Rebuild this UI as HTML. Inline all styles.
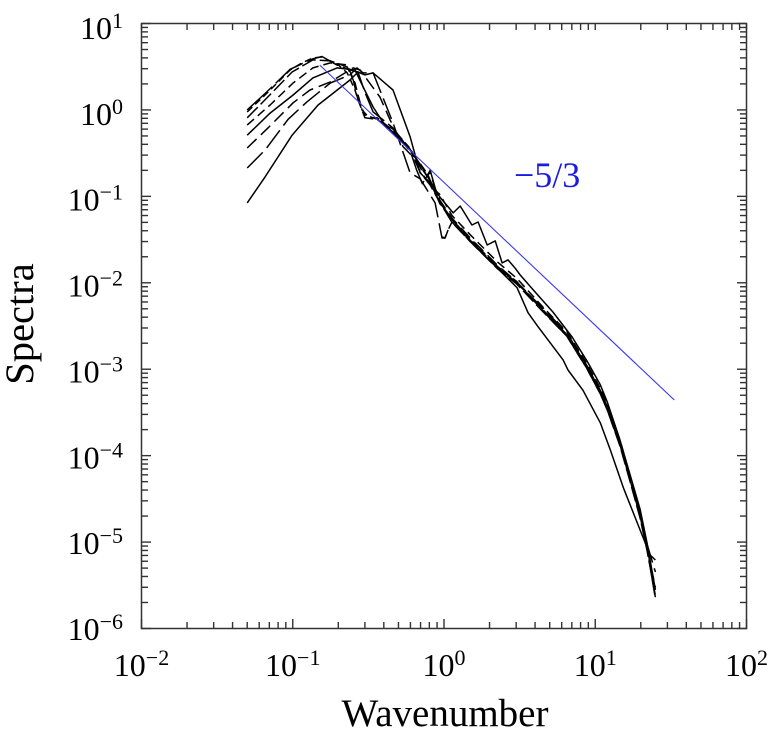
<!DOCTYPE html>
<html>
<head>
<meta charset="utf-8">
<title>Spectra vs Wavenumber</title>
<style>
html,body{margin:0;padding:0;background:#fff}
svg{display:block}
text{font-family:"Liberation Serif",serif;fill:#000}
</style>
</head>
<body>
<svg id="chart" xmlns="http://www.w3.org/2000/svg" width="767" height="739" viewBox="0 0 767 739">
<rect width="767" height="739" fill="#fff"/>
<g id="ticks"></g>
<g id="labels"></g>
<g id="series"></g>
<rect x="141.5" y="23.5" width="605" height="605" fill="none" stroke="#333" stroke-width="1.5"/>
<text x="445" y="726" font-size="39" text-anchor="middle">Wavenumber</text>
<text transform="translate(33,324) rotate(-90)" font-size="40.5" text-anchor="middle">Spectra</text>
<text x="514" y="187" font-size="36" style="fill:#1a1ae0">−5/3</text>
</svg>
<script>
const xExponents = [-2, -1, 0, 1, 2];
const yExponents = [-6, -5, -4, -3, -2, -1, 0, 1];
const minorMultipliers = [2, 3, 4, 5, 6, 7, 8, 9];

const slopeK = [0.151, 33.3];
const slopeE = [3.3, 0.00044];

const kA = [0.05,0.0656,0.099,0.147,0.239,0.27,0.3,0.34,0.46,0.597,0.695,0.81,0.94,1.13,1.49,2.25,3.04,3.6,4.13,6.13,6.6,8.3,10.8,12.6,15.3,19.8,23,25];
const eA = [0.084,0.168,0.51,1.14,2.22,2.75,2.54,2.68,1.7,0.49,0.187,0.143,0.085,0.055,0.03,0.0148,0.0088,0.0045,0.0032,0.00128,0.00098,0.00057,0.00024,0.000116,0.000043,0.0000138,0.0000071,0.0000062];
const kB = [0.05,0.0656,0.0931,0.124,0.177,0.239,0.266,0.292,0.34,0.46,0.597,0.695,0.873,0.97,1.016,1.064,1.13,1.49,2.25,3.04,4.52,6.5,8.8,10.8,12,14.6,17,19.8,22,25];
const eB = [0.213,0.344,0.78,1.24,2.05,2.54,3.06,2.68,2.68,0.71,0.187,0.16,0.0839,0.033,0.033,0.0408,0.0505,0.03,0.015,0.0098,0.0051,0.0026,0.0011,0.00057,0.00038,0.000145,0.000058,0.000023,0.0000095,0.0000045];
const kBdip = [0.97,1.016,1.064];
const eBdip = [0.034,0.033,0.0408];
const kC = [0.05,0.0686,0.1005,0.13,0.177,0.251,0.279,0.377,0.44,0.537,0.597,0.695,0.75,0.81,0.87,0.94,1.13,1.49,2.25,3.04,4.52,6.5,8.8,10.8,12,14.6,17,19.8,22,25];
const eC = [0.363,0.62,1.21,1.7,2.11,3.06,2.9,1.41,0.766,0.373,0.31,0.22,0.16,0.19,0.125,0.09,0.056,0.033,0.016,0.0102,0.0047,0.0024,0.00102,0.00052,0.00034,0.000132,0.000052,0.00002,0.0000085,0.000003];
const kD = [0.05,0.0708,0.1005,0.136,0.196,0.258,0.292,0.34,0.395,0.49,0.597,0.695,0.81,0.94,1.15,1.28,1.53,1.68,1.93,2.18,2.42,2.65,2.95,3.19,4,5.25,7.03,8.8,10.8,12,14.6,17,19.8,22,25];
const eD = [0.51,0.92,1.49,2.35,3.06,2.9,1.85,1.08,0.72,0.49,0.35,0.235,0.15,0.098,0.0644,0.0774,0.0466,0.0505,0.0274,0.0305,0.017,0.0184,0.0148,0.0123,0.00783,0.00459,0.00236,0.00125,0.00066,0.00042,0.00015,0.00006,0.000024,0.0000098,0.0000028];
const kE = [0.05,0.0708,0.1005,0.136,0.177,0.229,0.258,0.287,0.32,0.361,0.46,0.597,0.695,0.78,0.86,0.94,1.13,1.49,2.25,3.04,4.52,6.5,8.8,10.8,12,14.6,17,19.8,22,25];
const eE = [0.67,1.14,2.05,3.06,3.5,3.32,2.05,1.0,0.81,0.81,0.58,0.33,0.24,0.18,0.12,0.105,0.06,0.036,0.0175,0.0112,0.0052,0.0027,0.00116,0.0006,0.0004,0.00015,0.000058,0.000022,0.0000092,0.0000026];
const kF = [0.05,0.0636,0.099,0.136,0.177,0.229,0.251,0.27,0.3,0.361,0.46,0.597,0.695,0.81,0.94,1.13,1.49,2.25,3.04,4.52,6.5,8.8,10.8,12,14.6,17,19.8,22,25];
const eF = [0.81,1.24,2.75,3.79,3.69,3.15,2.22,1.31,0.81,0.78,0.56,0.35,0.19,0.135,0.085,0.05,0.03,0.0146,0.0096,0.0046,0.0024,0.00102,0.00052,0.00034,0.000128,0.00005,0.000019,0.000008,0.0000024];
const kG = [0.05,0.0656,0.096,0.115,0.136,0.156,0.2,0.229,0.258,0.27,0.301,0.361,0.46,0.597,0.695,0.81,0.94,1.13,1.49,2.25,3.04,4.52,6.5,8.8,10.8,12,14.6,17,19.8,22,25];
const eG = [0.95,1.49,2.9,3.5,4.0,4.1,3.32,2.68,1.7,1.31,0.875,0.78,0.6,0.36,0.225,0.15,0.082,0.054,0.032,0.0155,0.0103,0.00484,0.00249,0.00106,0.000545,0.000365,0.00014,0.000055,0.000021,0.0000087,0.0000023];
const kH = [0.05,0.0656,0.096,0.136,0.156,0.196,0.24,0.27,0.3,0.34,0.46,0.597,0.66,0.72,0.81,0.88,0.94,1.13,1.49,2.25,3.04,4.52,6.5,8.8,10.8,12,14.6,17,19.8,22,25];
const eH = [1.0,1.55,2.95,3.9,4.15,3.3,2.9,2.75,1.6,0.95,0.62,0.34,0.2,0.14,0.2,0.12,0.085,0.054,0.031,0.0152,0.01,0.0049,0.0025,0.0011,0.00056,0.00037,0.000135,0.000053,0.0000205,0.0000087,0.0000022];

const seriesK = [kA, kB, kBdip, kC, kD, kE, kF, kG, kH];
const seriesE = [eA, eB, eBdip, eC, eD, eE, eF, eG, eH];
const seriesNames = ['a','b','b-dip','c','d','e','f','g','h'];
const seriesDash = ['', '22 6', '', '13 6', '', '9 5', '15 4', '7 4', '34 5'];

const NS = 'http://www.w3.org/2000/svg';
const plot = {left:141.5, right:746.5, top:23.5, bottom:628.5, xMin:-2, xMax:2, yMin:-6, yMax:1};
const labelLayout = {topBaseline:39, decadeStep:85.86};
function xScale(k){ return plot.left + (Math.log10(k) - plot.xMin) / (plot.xMax - plot.xMin) * (plot.right - plot.left); }
function yScale(e){ return plot.bottom - (Math.log10(e) - plot.yMin) / (plot.yMax - plot.yMin) * (plot.bottom - plot.top); }
function linePath(ks, es){ return ks.map((k,i)=>(i?'L':'M')+xScale(k).toFixed(1)+' '+yScale(es[i]).toFixed(1)).join(''); }

const ticksG = document.getElementById('ticks');
const labelsG = document.getElementById('labels');
const seriesG = document.getElementById('series');

function addTick(x1,y1,x2,y2){
  const t = document.createElementNS(NS,'line');
  t.setAttribute('x1',x1); t.setAttribute('y1',y1); t.setAttribute('x2',x2); t.setAttribute('y2',y2);
  t.setAttribute('stroke','#333'); t.setAttribute('stroke-width','1.4');
  
  
  ticksG.appendChild(t);
}
function addLabel(x,y,anchor,exp,name){
  const t = document.createElementNS(NS,'text');
  t.setAttribute('x',x); t.setAttribute('y',y); t.setAttribute('text-anchor',anchor);
  t.setAttribute('font-size','32');
  
  
  const a = document.createElementNS(NS,'tspan');
  a.textContent = '10';
  const b = document.createElementNS(NS,'tspan');
  b.setAttribute('dy','-11'); b.setAttribute('font-size','22');
  b.textContent = String(exp).replace('-','−');
  t.appendChild(a); t.appendChild(b);
  labelsG.appendChild(t);
}

xExponents.forEach(exp=>{
  const major = Math.pow(10,exp), x = xScale(major);
  addTick(x,plot.bottom,x,plot.bottom-9.5);
  addTick(x,plot.top,x,plot.top+6.5);
  addLabel(x,676,'middle',exp,'x-tick-label');
  if(exp<plot.xMax) minorMultipliers.forEach(m=>{
    const mx = xScale(m*major);
    addTick(mx,plot.bottom,mx,plot.bottom-6.5);
    addTick(mx,plot.top,mx,plot.top+6.5);
  });
});
yExponents.forEach(exp=>{
  const major = Math.pow(10,exp), y = yScale(major);
  addTick(plot.left,y,plot.left+9.5,y);
  addTick(plot.right,y,plot.right-9.5,y);
  addLabel(123,labelLayout.topBaseline+(plot.yMax-exp)*labelLayout.decadeStep,'end',exp,'y-tick-label');
  if(exp<plot.yMax) minorMultipliers.forEach(m=>{
    const my = yScale(m*major);
    addTick(plot.left,my,plot.left+6.5,my);
    addTick(plot.right,my,plot.right-6.5,my);
  });
});

seriesK.forEach((ks,i)=>{
  const p = document.createElementNS(NS,'path');
  p.setAttribute('d', linePath(ks, seriesE[i]));
  p.setAttribute('fill','none');
  p.setAttribute('stroke','#000');
  p.setAttribute('stroke-width','1.5');
  p.setAttribute('stroke-linejoin','round');
  if(seriesDash[i]) p.setAttribute('stroke-dasharray',seriesDash[i]);
  
  
  seriesG.appendChild(p);
});

const slope = document.createElementNS(NS,'path');
slope.setAttribute('d', linePath(slopeK, slopeE));
slope.setAttribute('fill','none');
slope.setAttribute('stroke','#3a3af0');
slope.setAttribute('stroke-width','1.1');


seriesG.appendChild(slope);
</script>
</body>
</html>
